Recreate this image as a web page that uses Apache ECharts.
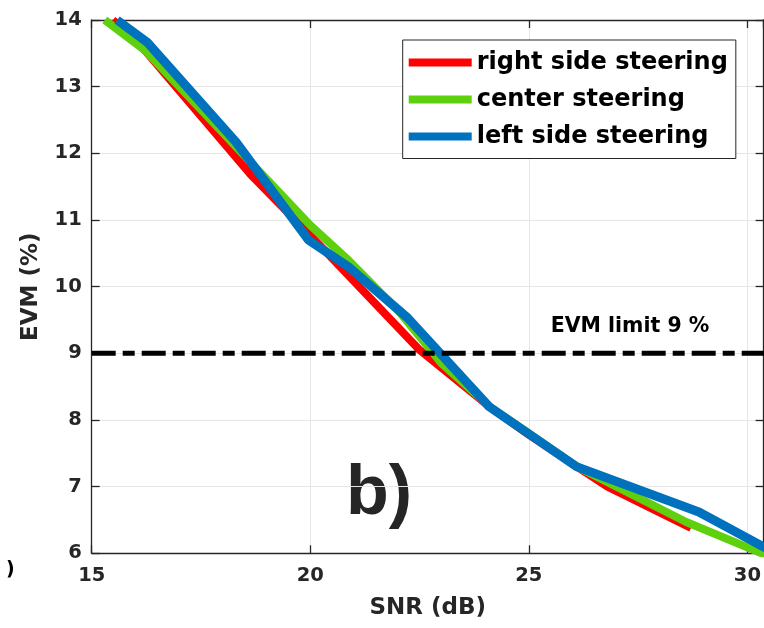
<!DOCTYPE html>
<html>
<head>
<meta charset="utf-8">
<script src="https://cdn.jsdelivr.net/npm/echarts@6/dist/echarts.min.js"></script>
<style>
html,body{margin:0;padding:0;background:#fff;}
#chart{width:764px;height:628px;}
</style>
</head>
<body>
<div id="chart"></div>
<script>
// ---- data ----
const seriesNames = ['right side steering', 'center steering', 'left side steering'];

const rightX = [15.48, 16.21, 18.64, 20.03, 22.5, 24.1, 25.0, 26.1, 26.8, 28.71];
const rightY = [14.0, 13.55, 11.68, 10.75, 9.05, 8.2, 7.78, 7.3, 7.0, 6.38];

const centerX = [15.3, 16.21, 20.0, 20.87, 22.0, 23.0, 24.1, 25.0, 26.1, 28.6, 30.4];
const centerY = [14.0, 13.55, 10.92, 10.4, 9.65, 8.85, 8.2, 7.8, 7.3, 6.47, 5.98];

const leftX = [15.58, 16.28, 18.3, 19.96, 20.87, 22.23, 24.09, 26.09, 28.89, 30.5];
const leftY = [14.0, 13.66, 12.17, 10.7, 10.3, 9.53, 8.2, 7.3, 6.62, 6.05];

const limitX = [15, 31];
const limitY = [9, 9];
const limitLabel = 'EVM limit 9 %';

const xTicks = [15, 20, 25, 30];
const yTicks = [6, 7, 8, 9, 10, 11, 12, 13, 14];

function pairs(xs, ys) { return xs.map((x, i) => [x, ys[i]]); }

const FONT = 'DejaVu Sans';
const AX = '#262626';

const chart = echarts.init(document.getElementById('chart'), null, {renderer: 'canvas'});

const xMin = xTicks[0], xMax = 30.37;
const yMin = yTicks[0], yMax = yTicks[yTicks.length - 1];

const option = {
  animation: false,
  backgroundColor: '#ffffff',
  grid: {left: 91.7, top: 20, right: -4, bottom: 74.7, containLabel: false},
  legend: {
    data: seriesNames,
    orient: 'vertical',
    left: 402.7, top: 40,
    padding: [10.5, 8, 10, 6],
    itemGap: 13,
    itemWidth: 63, itemHeight: 8,
    icon: 'rect',
    backgroundColor: '#ffffff',
    borderColor: AX, borderWidth: 1,
    textStyle: {fontFamily: FONT, fontWeight: 'bold', fontSize: 24, color: '#000', lineHeight: 24}
  },
  xAxis: [{
    type: 'value', min: xMin, max: xMax, interval: 5, position: 'bottom',
    name: 'SNR (dB)', nameLocation: 'middle', nameGap: 43,
    nameTextStyle: {fontFamily: FONT, fontWeight: 'bold', fontSize: 23, color: AX},
    axisLine: {show: true, onZero: false, lineStyle: {color: AX, width: 1.3}},
    axisTick: {show: true, inside: true, length: 8, lineStyle: {color: AX, width: 1.3}},
    axisLabel: {fontFamily: FONT, fontWeight: 'bold', fontSize: 19.5, color: AX, margin: 13, showMaxLabel: false},
    splitLine: {show: true, lineStyle: {color: '#e6e6e6', width: 1}}
  }, {
    type: 'value', min: xMin, max: xMax, interval: 5, position: 'top',
    axisLine: {show: true, onZero: false, lineStyle: {color: AX, width: 1.3}},
    axisTick: {show: true, inside: true, length: 8, lineStyle: {color: AX, width: 1.3}},
    axisLabel: {show: false},
    splitLine: {show: false}
  }],
  yAxis: [{
    type: 'value', min: yMin, max: yMax, interval: 1, position: 'left',
    name: 'EVM (%)', nameLocation: 'middle', nameGap: 49,
    nameTextStyle: {fontFamily: FONT, fontWeight: 'bold', fontSize: 23, color: AX},
    axisLine: {show: true, onZero: false, lineStyle: {color: AX, width: 1.3}},
    axisTick: {show: true, inside: true, length: 8, lineStyle: {color: AX, width: 1.3}},
    axisLabel: {fontFamily: FONT, fontWeight: 'bold', fontSize: 19.5, color: AX, margin: 10},
    splitLine: {show: true, lineStyle: {color: '#e6e6e6', width: 1}}
  }, {
    type: 'value', min: yMin, max: yMax, interval: 1, position: 'right',
    axisLine: {show: true, onZero: false, lineStyle: {color: AX, width: 1.3}},
    axisTick: {show: true, inside: true, length: 8, lineStyle: {color: AX, width: 1.3}},
    axisLabel: {show: false},
    splitLine: {show: false}
  }],
  series: [{
    name: seriesNames[0], type: 'line', data: pairs(rightX, rightY),
    symbol: 'none', color: '#ff0000', lineStyle: {color: '#ff0000', width: 8}
  }, {
    name: seriesNames[1], type: 'line', data: pairs(centerX, centerY),
    symbol: 'none', color: '#5fd00e', lineStyle: {color: '#5fd00e', width: 8}
  }, {
    name: seriesNames[2], type: 'line', data: pairs(leftX, leftY),
    symbol: 'none', color: '#0072bd', lineStyle: {color: '#0072bd', width: 9}
  }, {
    name: 'limit', type: 'line', data: pairs(limitX, limitY),
    symbol: 'none', color: '#000', lineStyle: {color: '#000', width: 5, type: [24, 7, 12, 7], cap: 'butt'}
  }],
  graphic: [{
    type: 'text', x: 630, y: 327,
    style: {text: limitLabel, font: 'bold 20.5px "DejaVu Sans"', fill: '#000', align: 'center', verticalAlign: 'middle'}
  }, {
    type: 'text', x: 346, y: 495,
    style: {text: 'b)', font: 'bold 70px "Liberation Sans"', fill: '#262626', align: 'left', verticalAlign: 'middle'}
  }, {
    type: 'text', x: 6, y: 570,
    style: {text: ')', font: 'bold 19px "DejaVu Sans"', fill: '#000', align: 'left', verticalAlign: 'middle'}
  }]
};
chart.setOption(option);
</script>
</body>
</html>
